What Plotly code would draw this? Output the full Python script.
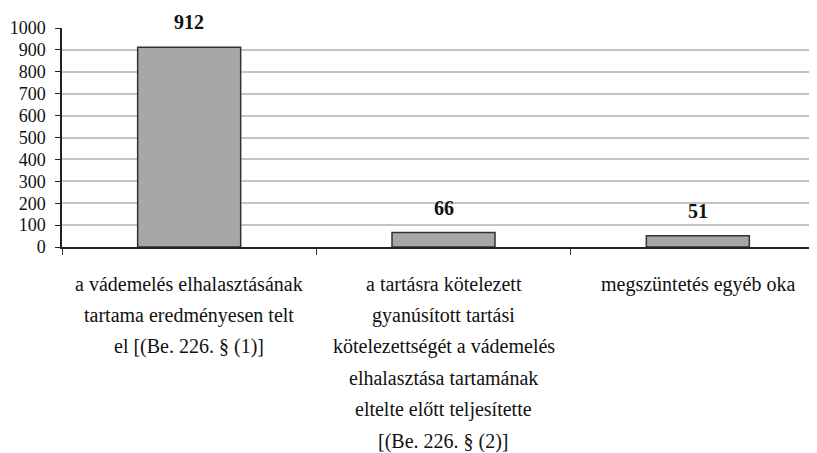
import plotly.graph_objects as go

categories = [
    "a vádemelés elhalasztásának\ntartama eredményesen telt\nel [(Be. 226. § (1)]",
    "a tartásra kötelezett\ngyanúsított tartási\nkötelezettségét a vádemelés\nelhalasztása tartamának\neltelte előtt teljesítette\n[(Be. 226. § (2)]",
    "megszüntetés egyéb oka",
]
values = [912, 66, 51]
y_ticks = [0, 100, 200, 300, 400, 500, 600, 700, 800, 900, 1000]

xs = [0, 1, 2]
FONT = "Liberation Serif"

fig = go.Figure()
fig.add_trace(go.Bar(
    x=xs, y=values, width=0.405,
    marker=dict(color="#a6a8a6", line=dict(color="#333333", width=1.5)),
    hoverinfo="skip",
))

annotations = []
for x, v in zip(xs, values):
    annotations.append(dict(
        x=x, y=v, xref="x", yref="y", text=f"<b>{v}</b>", showarrow=False,
        yanchor="bottom", yshift=12, font=dict(family=FONT, size=20, color="#111111"),
    ))
for x, cat in zip(xs, categories):
    for j, line in enumerate(cat.split("\n")):
        annotations.append(dict(
            x=x, y=0, xref="x", yref="paper", text=line, showarrow=False,
            yanchor="middle", yshift=-(37 + 31.4 * j),
            font=dict(family=FONT, size=20, color="#111111"),
        ))

fig.update_layout(
    width=817, height=453,
    margin=dict(l=54, r=0, t=20, b=214, pad=0),
    paper_bgcolor="white", plot_bgcolor="white",
    showlegend=False,
    annotations=annotations,
    font=dict(family=FONT, size=18, color="#111111"),
)
fig.update_xaxes(
    range=[-0.5, 2.5], tickmode="array", tickvals=[-0.5, 0.5, 1.5, 2.5],
    showticklabels=False, ticks="outside", ticklen=6, tickcolor="#333333",
    showline=True, linecolor="#222222", linewidth=1.5, showgrid=False, zeroline=False,
)
fig.update_yaxes(
    range=[0, 1000], tickvals=y_ticks, ticks="outside", ticklen=5, tickcolor="#222222",
    showline=True, linecolor="#222222", linewidth=1.5,
    showgrid=True, gridcolor="#c4c4c4", gridwidth=1.5, zeroline=False,
    tickfont=dict(family=FONT, size=18, color="#111111"), ticklabelstandoff=6,
)

fig.write_html("out.html")
